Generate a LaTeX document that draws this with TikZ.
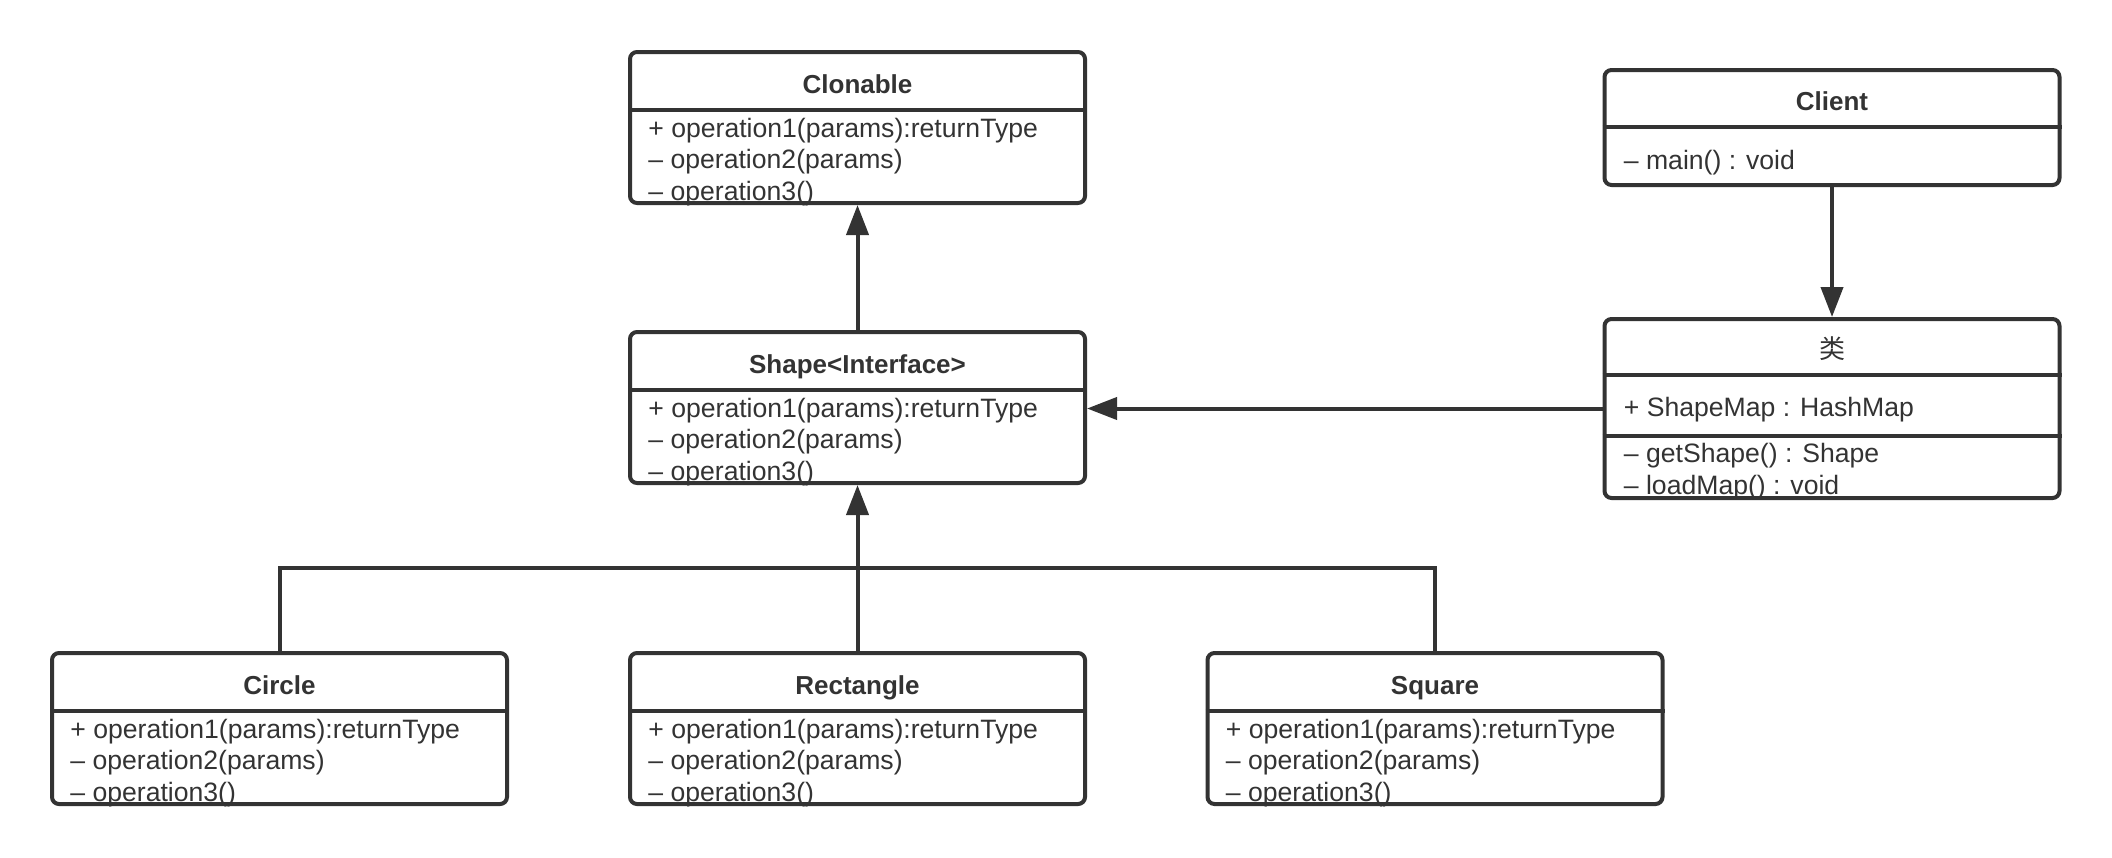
\documentclass[tikz,border=0pt]{standalone}
\usepackage{fontspec}
\setmainfont{Liberation Sans}
\newfontfamily\cjk{Noto Sans CJK SC}
\usetikzlibrary{arrows.meta}
\definecolor{umlgray}{HTML}{333333}

\begin{document}
\begin{tikzpicture}[x=0.5pt, y=-0.5pt,
    classbox/.style={draw=umlgray, line width=2pt, rounded corners=3.5pt, minimum width=227.5pt, inner sep=0pt},
    classtitle/.style={text=umlgray, font=\fontsize{13}{15}\selectfont\bfseries, inner sep=0pt, anchor=base},
    memberline/.style={text=umlgray, font=\fontsize{13.3}{16}\selectfont, inner sep=0pt, anchor=base west},
    link/.style={draw=umlgray, line width=2pt},
    inherit/.style={link, -{Triangle[length=15pt, width=11pt]}}]
    \useasboundingbox (0,0) rectangle (2112,857);

    % interface classes
    \node[classbox, minimum height=75.5pt] (clonable) at (857.5,127.5) {};
    \node[classtitle] (clonable-title) at ([yshift=-21.5pt]clonable.north) {Clonable};
    \node[classbox, minimum height=75.5pt] (shape) at (857.5,407.5) {};
    \node[classtitle] (shape-title) at ([yshift=-21.5pt]shape.north) {Shape<Interface>};

    % concrete shapes
    \node[classbox, minimum height=75.5pt] (circle) at (279.5,728.5) {};
    \node[classtitle] (circle-title) at ([yshift=-21.5pt]circle.north) {Circle};
    \node[classbox, minimum height=75.5pt] (rectangle) at (857.5,728.5) {};
    \node[classtitle] (rectangle-title) at ([yshift=-21.5pt]rectangle.north) {Rectangle};
    \node[classbox, minimum height=75.5pt] (square) at (1435,728.5) {};
    \node[classtitle] (square-title) at ([yshift=-21.5pt]square.north) {Square};

    \foreach \cls in {clonable,shape,circle,rectangle,square} {
        \draw[link] ([yshift=-30pt]\cls.north west) -- ([yshift=-30pt]\cls.north east);
        \node[memberline] (\cls-op1) at ([xshift=10pt,yshift=-43.5pt]\cls.north west) {+ operation1(params):returnType};
        \node[memberline] (\cls-op2) at ([xshift=10pt,yshift=-59pt]\cls.north west) {– operation2(params)};
        \node[memberline] (\cls-op3) at ([xshift=10pt,yshift=-75pt]\cls.north west) {– operation3()};
    }

    % client and factory
    \node[classbox, minimum height=57.5pt] (client) at (1832,127.5) {};
    \node[classtitle] (client-title) at ([yshift=-21pt]client.north) {Client};
    \draw[link] ([yshift=-29.5pt]client.north west) -- ([yshift=-29.5pt]client.north east);
    \node[memberline] (client-main) at ([xshift=10.5pt,yshift=-50.5pt]client.north west) {– main() : void};

    \node[classbox, minimum height=89.5pt] (lei) at (1832,408.5) {};
    \node[classtitle, font=\cjk\fontsize{13}{15}\selectfont] (lei-title) at ([yshift=-20.5pt]lei.north) {类};
    \draw[link] ([yshift=-29pt]lei.north west) -- ([yshift=-29pt]lei.north east);
    \draw[link] ([yshift=-59.5pt]lei.north west) -- ([yshift=-59.5pt]lei.north east);
    \node[memberline] (lei-map) at ([xshift=10.5pt,yshift=-49.5pt]lei.north west) {+ ShapeMap : HashMap};
    \node[memberline] (lei-get) at ([xshift=10.5pt,yshift=-72.5pt]lei.north west) {– getShape() : Shape};
    \node[memberline] (lei-load) at ([xshift=10.5pt,yshift=-88.5pt]lei.north west) {– loadMap() : void};

    % connectors
    \coordinate (bus) at (857.5,568);
    \draw[link] (circle.north) |- (bus) -| (square.north);
    \draw[inherit] (rectangle.north) -- (shape.south);
    \draw[inherit] (shape.north) -- (clonable.south);
    \draw[inherit] (client.south) -- (lei.north);
    \draw[inherit] (lei.west) -- (lei.west -| shape.east);
\end{tikzpicture}
\end{document}
